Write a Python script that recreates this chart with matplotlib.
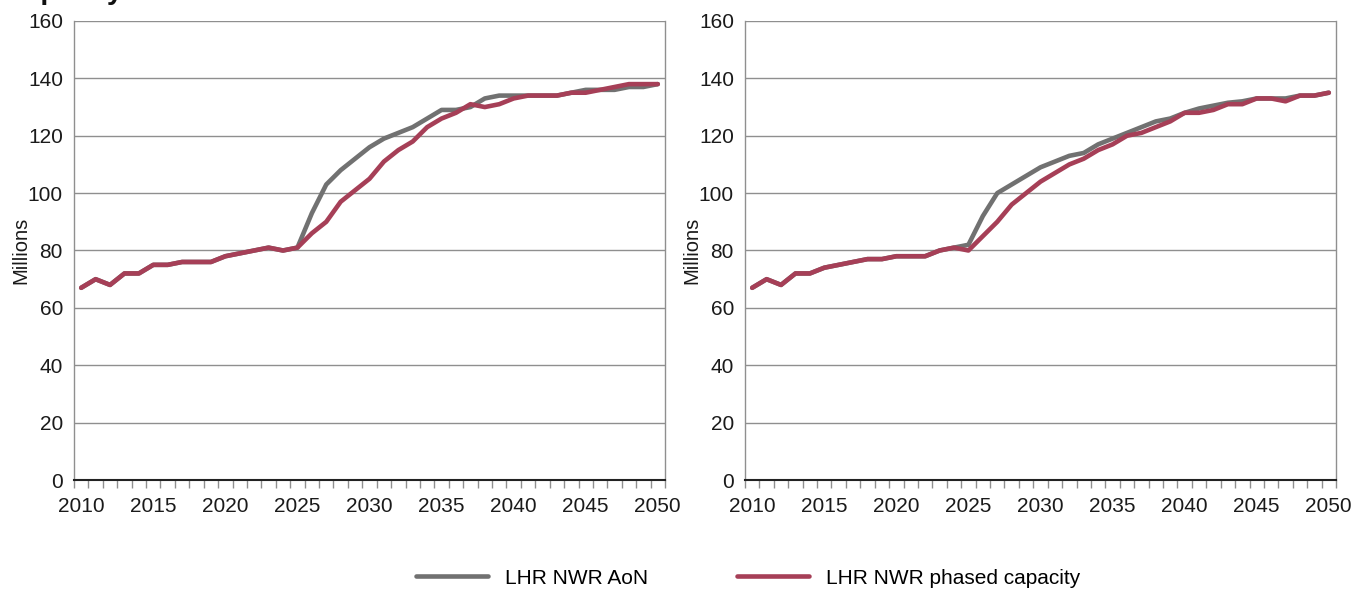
import matplotlib
matplotlib.use("Agg")
import matplotlib.pyplot as plt
from matplotlib.ticker import FixedLocator
import numpy as np

plt.rcParams['font.family'] = ['Liberation Sans', 'DejaVu Sans']

years = list(range(2010, 2051))

# Left panel (millions of passengers)
left_aon = [67, 70, 68, 72, 72, 75, 75, 76, 76, 76,
            78, 79, 80, 81, 80, 81, 93, 103, 108, 112,
            116, 119, 121, 123, 126, 129, 129, 130, 133, 134,
            134, 134, 134, 134, 135, 136, 136, 136, 137, 137, 138]
left_phased = [67, 70, 68, 72, 72, 75, 75, 76, 76, 76,
               78, 79, 80, 81, 80, 81, 86, 90, 97, 101,
               105, 111, 115, 118, 123, 126, 128, 131, 130, 131,
               133, 134, 134, 134, 135, 135, 136, 137, 138, 138, 138]

# Right panel
right_aon = [67, 70, 68, 72, 72, 74, 75, 76, 77, 77,
             78, 78, 78, 80, 81, 82, 92, 100, 103, 106,
             109, 111, 113, 114, 117, 119, 121, 123, 125, 126,
             128, 129.5, 130.5, 131.5, 132, 133, 133, 133, 134, 134, 135]
right_phased = [67, 70, 68, 72, 72, 74, 75, 76, 77, 77,
                78, 78, 78, 80, 81, 80, 85, 90, 96, 100,
                104, 107, 110, 112, 115, 117, 120, 121, 123, 125,
                128, 128, 129, 131, 131, 133, 133, 132, 134, 134, 135]

series_names = ["LHR NWR AoN", "LHR NWR phased capacity"]
colors = ["#717171", "#A63F57"]
yticks = list(range(0, 161, 20))
xlabels = [2010, 2015, 2020, 2025, 2030, 2035, 2040, 2045, 2050]

W, H = 1354, 590
fig = plt.figure(figsize=(W / 100, H / 100), dpi=100)

panels = [(74, left_aon, left_phased), (745, right_aon, right_phased)]
axes = []
for x0, aon, phased in panels:
    ax = fig.add_axes([x0 / W, (H - 480) / H, 591 / W, 459 / H])
    axes.append(ax)
    ax.plot(years, aon, color=colors[0], lw=3.3, solid_capstyle='round',
            solid_joinstyle='round', label=series_names[0])
    ax.plot(years, phased, color=colors[1], lw=3.3, solid_capstyle='round',
            solid_joinstyle='round', label=series_names[1])
    ax.set_xlim(years[0] - 0.5, years[-1] + 0.5)
    ax.set_ylim(0, 160)
    ax.set_yticks(yticks)
    ax.yaxis.grid(True, color="#8f8f8f", lw=1.0)
    ax.set_axisbelow(True)
    ax.tick_params(axis='y', length=0, pad=8, labelsize=15, colors="#1a1a1a")
    ax.set_xticks(xlabels)
    ax.set_xticklabels([str(v) for v in xlabels])
    ax.tick_params(axis='x', which='major', length=0, pad=12, labelsize=15,
                   colors="#1a1a1a")
    ax.xaxis.set_minor_locator(FixedLocator(np.arange(years[0] - 0.5, years[-1] + 1.0, 1.0)))
    ax.tick_params(axis='x', which='minor', length=6, width=1.0, color="#8f8f8f",
                   direction='out')
    ax.spines['top'].set_visible(False)
    for side in ('left', 'right'):
        ax.spines[side].set_color("#8f8f8f")
        ax.spines[side].set_linewidth(1.0)
    ax.spines['bottom'].set_color("#222222")
    ax.spines['bottom'].set_linewidth(1.5)
    ax.set_ylabel("Millions", fontsize=14.5, color="#1a1a1a", labelpad=-2)

# Section heading running off the top edge
fig.text(5 / W, 1 + 1 / H, "Capacity", fontsize=20.5, fontweight='bold',
         va='baseline', ha='left', color="#111111")

handles, labels = axes[0].get_legend_handles_labels()
fig.legend(handles, labels, loc='center', bbox_to_anchor=(748 / W, 1 - 578 / H),
           ncol=2, frameon=False, fontsize=15, handlelength=3.45,
           handletextpad=0.8, columnspacing=4.3)

fig.savefig("out.png", dpi=100)
